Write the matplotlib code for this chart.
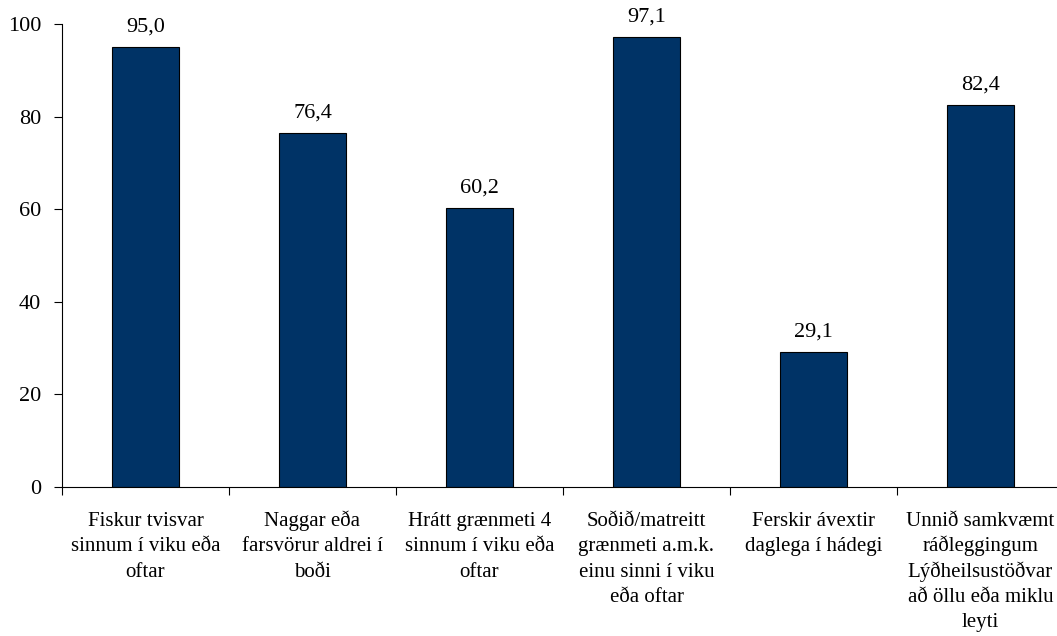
import numpy as np
import matplotlib
matplotlib.use('Agg')
import matplotlib.pyplot as plt
import matplotlib.transforms as mtransforms

# Data
categories = [
    'Fiskur tvisvar\nsinnum í viku eða\noftar',
    'Naggar eða\nfarsvörur aldrei í\nboði',
    'Hrátt grænmeti 4\nsinnum í viku eða\noftar',
    'Soðið/matreitt\ngrænmeti a.m.k.\neinu sinni í viku\neða oftar',
    'Ferskir ávextir\ndaglega í hádegi',
    'Unnið samkvæmt\nráðleggingum\nLýðheilsustöðvar\nað öllu eða miklu\nleyti',
]
values = [95.0, 76.4, 60.2, 97.1, 29.1, 82.4]
y_ticks = [0, 20, 40, 60, 80, 100]

plt.rcParams['font.family'] = ['Liberation Serif', 'DejaVu Serif']

fig = plt.figure(figsize=(10.57, 6.36), dpi=100)
ax_h = 463
ax = fig.add_axes([62 / 1057, 149 / 636, 1002 / 1057, ax_h / 636])

x = np.arange(len(values))
bars = ax.bar(x, values, width=0.4, color='#003366', edgecolor='black', linewidth=0.8)

for xi, v in zip(x, values):
    ax.text(xi, v + 3.4, f'{v:.1f}'.replace('.', ','), ha='center', va='baseline', fontsize=16)

ax.set_xlim(-0.5, len(values) - 0.5)
ax.set_ylim(0, 100)
ax.set_yticks(y_ticks)
ax.tick_params(axis='y', labelsize=16, length=6, width=0.8, pad=9)

# separator ticks at category boundaries
ax.set_xticks(np.arange(len(values) + 1) - 0.5)
ax.set_xticklabels([])
ax.tick_params(axis='x', which='major', length=6, width=0.8)

# category labels, one text per line so the baselines line up
trans = mtransforms.blended_transform_factory(ax.transData, ax.transAxes)
first_base = 39      # px below the x axis
line_step = 25.3     # px between baselines
for xi, lab in zip(x, categories):
    for i, line in enumerate(lab.split('\n')):
        y = -(first_base + i * line_step) / ax_h
        ax.text(xi, y, line, transform=trans, ha='center', va='baseline', fontsize=15)

for side in ['top', 'right']:
    ax.spines[side].set_visible(False)
for side in ['left', 'bottom']:
    ax.spines[side].set_linewidth(0.8)

fig.savefig('out.png', dpi=100)
